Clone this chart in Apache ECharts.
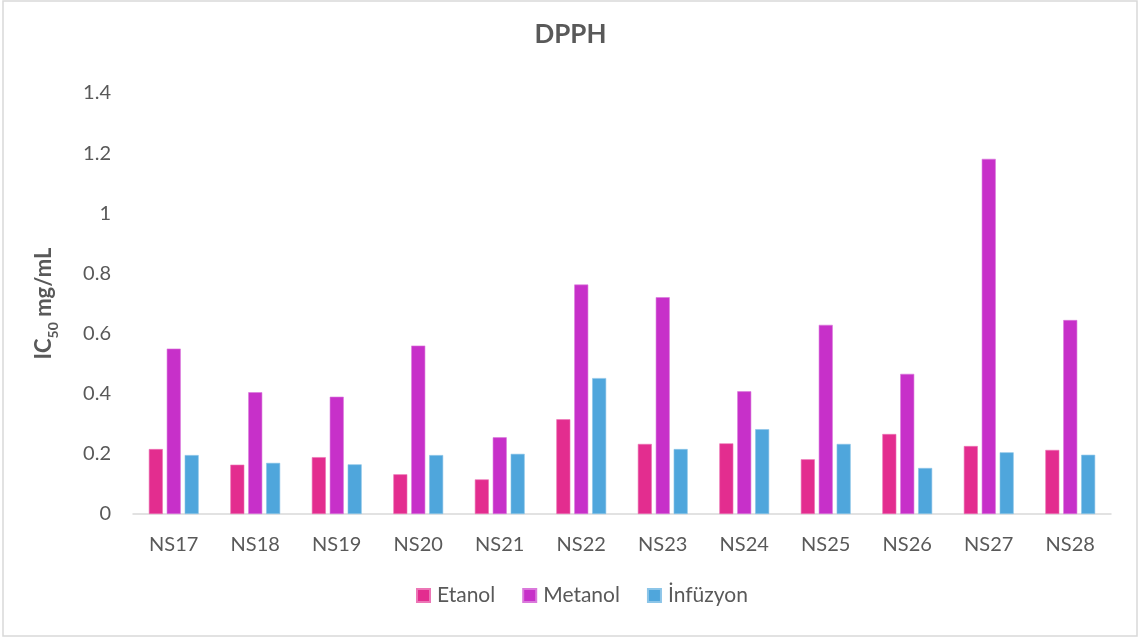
<!DOCTYPE html>
<html>
<head>
<meta charset="utf-8">
<script src="https://cdn.jsdelivr.net/npm/echarts@6/dist/echarts.min.js"></script>
<style>
  html, body { margin: 0; padding: 0; background: #fff; }
  #chart { width: 1141px; height: 641px; }
</style>
</head>
<body>
<div id="chart"></div>
<script>
// Sample codes on the category axis
const samples = ['NS17', 'NS18', 'NS19', 'NS20', 'NS21', 'NS22', 'NS23', 'NS24', 'NS25', 'NS26', 'NS27', 'NS28'];

// DPPH IC50 values (mg/mL) per extraction method
const etanol   = [0.216, 0.164, 0.189, 0.132, 0.115, 0.315, 0.233, 0.235, 0.182, 0.266, 0.226, 0.213];
const metanol  = [0.550, 0.405, 0.390, 0.560, 0.255, 0.763, 0.721, 0.408, 0.629, 0.466, 1.181, 0.645];
const infuzyon = [0.196, 0.170, 0.165, 0.196, 0.200, 0.452, 0.216, 0.282, 0.233, 0.153, 0.205, 0.197];

// Y axis tick settings
const yMin = 0, yMax = 1.4, yStep = 0.2;

const font = 'Lato, "Open Sans", sans-serif';
const textColor = '#595959';

const chart = echarts.init(document.getElementById('chart'), null, { renderer: 'canvas' });

function barSeries(name, data, color) {
  return {
    name: name,
    type: 'bar',
    data: data,
    barWidth: 14,
    barGap: '28%',
    itemStyle: { color: color, borderColor: echarts.color.lift(color, 0.35), borderWidth: 0.6 },
    emphasis: { disabled: true }
  };
}

chart.setOption({
  animation: false,
  backgroundColor: '#fff',
  graphic: [{
    type: 'rect',
    shape: { x: 3, y: 1, width: 1134, height: 635 },
    style: { fill: 'none', stroke: '#d9d9d9', lineWidth: 1.5 },
    silent: true
  }],
  title: {
    text: 'DPPH',
    left: 'center',
    top: 17,
    textStyle: { fontFamily: font, fontSize: 26, fontWeight: 'bold', color: textColor }
  },
  legend: {
    bottom: 30,
    left: 411,
    itemWidth: 13,
    itemHeight: 13,
    itemGap: 27,
    icon: 'rect',
    textStyle: { fontFamily: font, fontSize: 21, color: textColor, padding: [0, 0, 0, 2] },
    data: ['Etanol', 'Metanol', 'İnfüzyon']
  },
  grid: { left: 133, right: 30, top: 93, bottom: 127, containLabel: false },
  xAxis: {
    type: 'category',
    data: samples,
    axisLine: { lineStyle: { color: '#d9d9d9', width: 1.5 } },
    axisTick: { show: false },
    axisLabel: { fontFamily: font, fontSize: 20, color: textColor, margin: 21 }
  },
  yAxis: {
    type: 'value',
    min: yMin,
    max: yMax,
    interval: yStep,
    splitLine: { show: false },
    axisLine: { show: false },
    axisTick: { show: false },
    axisLabel: {
      fontFamily: font, fontSize: 20, color: textColor, margin: 22,
      formatter: v => (Math.round(v * 10) / 10).toString()
    },
    name: '{a|IC}{b|50}{a| mg/mL}',
    nameLocation: 'middle',
    nameRotate: 90,
    nameGap: 78,
    nameTextStyle: {
      rich: {
        a: { fontFamily: font, fontSize: 22, fontWeight: 'bold', color: textColor, verticalAlign: 'bottom', lineHeight: 26 },
        b: { fontFamily: font, fontSize: 14, fontWeight: 'bold', color: textColor, verticalAlign: 'bottom', lineHeight: 26, padding: [0, 0, -5, 0] }
      }
    }
  },
  series: [
    barSeries('Etanol', etanol, '#e32d8f'),
    barSeries('Metanol', metanol, '#c730c9'),
    barSeries('İnfüzyon', infuzyon, '#4fa6dc')
  ]
});
</script>
</body>
</html>
